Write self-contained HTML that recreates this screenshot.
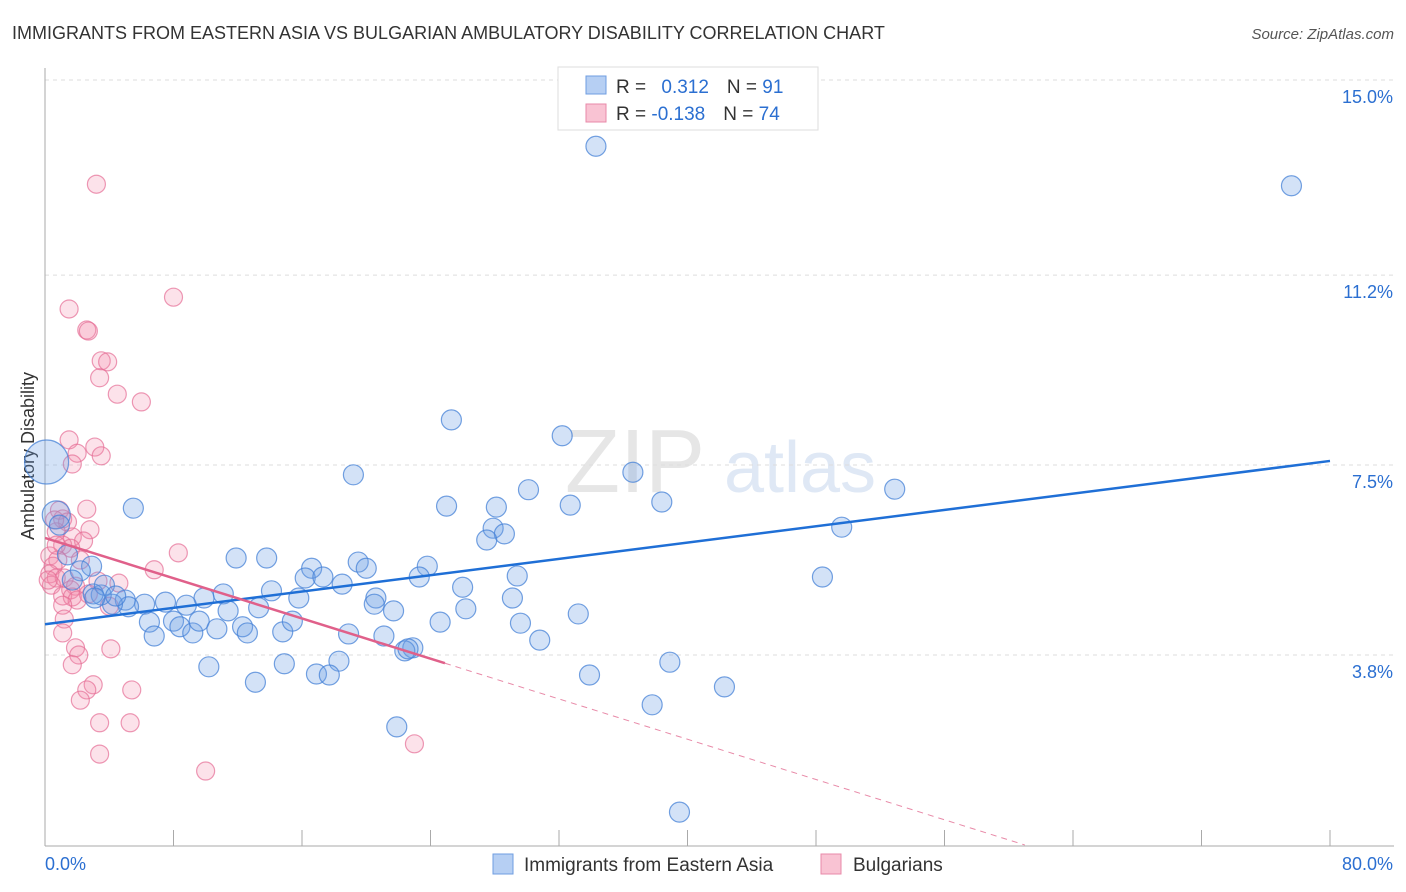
<!DOCTYPE html>
<html><head><meta charset="utf-8">
<style>
body{margin:0;background:#fff;font-family:"Liberation Sans",sans-serif;}
#wrap{position:relative;width:1406px;height:892px;overflow:hidden}
svg text{font-family:"Liberation Sans",sans-serif}
</style></head>
<body>
<div id="wrap">
<svg id="chart" width="1406" height="892" xmlns="http://www.w3.org/2000/svg">
<text x="12" y="39" font-size="18" fill="#333">IMMIGRANTS FROM EASTERN ASIA VS BULGARIAN AMBULATORY DISABILITY CORRELATION CHART</text>
<text x="1394" y="39" font-size="15" fill="#555" font-style="italic" text-anchor="end">Source: ZipAtlas.com</text>
<text x="34" y="456" font-size="18" fill="#333" text-anchor="middle" transform="rotate(-90 34 456)">Ambulatory Disability</text>
<text x="635" y="492" font-size="90" fill="#e6e6e6" font-family="Liberation Serif" text-anchor="middle">ZIP</text>
<text x="800" y="492" font-size="72" fill="#dfe8f5" text-anchor="middle">atlas</text>
<g id="grid"></g>
<g id="pts"></g>
<g id="lines"></g>
<g>
<rect x="558" y="67" width="260" height="63" fill="#fff" stroke="#ddd"/>
<rect x="586" y="76" width="20" height="18" fill="#b6cff3" stroke="#6f9ee0"/>
<rect x="586" y="104" width="20" height="18" fill="#f9c3d3" stroke="#e88aa8"/>
<text x="616" y="93" font-size="19" fill="#333">R = <tspan fill="#2b6fd1" dx="10">0.312</tspan><tspan dx="18" fill="#333">N = </tspan><tspan fill="#2b6fd1">91</tspan></text>
<text x="616" y="120" font-size="19" fill="#333">R = <tspan fill="#2b6fd1">-0.138</tspan><tspan dx="18" fill="#333">N = </tspan><tspan fill="#2b6fd1">74</tspan></text>
</g>
<g>
<rect x="493" y="854" width="20" height="20" fill="#b6cff3" stroke="#6f9ee0"/>
<text x="524" y="871" font-size="19" fill="#333">Immigrants from Eastern Asia</text>
<rect x="821" y="854" width="20" height="20" fill="#f9c3d3" stroke="#e88aa8"/>
<text x="853" y="871" font-size="19" fill="#333">Bulgarians</text>
</g>
</svg>
</div>
<script>
const yTicks=[15.0,11.2,7.5,3.8];
const yTickLabels=["15.0%","11.2%","7.5%","3.8%"];
const xTicks=[0,8,16,24,32,40,48,56,64,72,80];
const xEndLabels=["0.0%","80.0%"];
const blueX=[34.3,77.6,25.3,32.2,36.6,19.2,30.1,52.9,25.0,28.1,32.7,38.4,5.5,27.9,28.6,27.5,49.6,11.9,13.8,19.5,16.6,20.0,23.8,16.2,17.3,23.3,29.4,48.4,18.5,26.0,14.1,15.8,20.6,11.1,29.1,9.9,20.5,21.7,26.2,33.2,13.3,11.4,8.8,7.5,6.2,5.0,5.2,4.2,3.5,3.0,3.7,2.9,2.2,1.4,0.7,0.1,6.5,6.8,8.0,8.4,9.2,9.6,10.7,12.3,12.6,14.8,15.4,18.9,21.1,24.6,29.6,30.8,22.9,22.4,22.6,18.3,10.2,14.9,16.9,17.7,38.9,33.9,13.1,42.3,37.8,21.9,39.5,0.9,1.7,4.4,3.1];
const blueY=[13.71,12.94,8.38,8.07,7.36,7.31,7.02,7.03,6.70,6.68,6.72,6.78,6.66,6.27,6.16,6.04,6.29,5.69,5.69,5.61,5.49,5.49,5.53,5.30,5.32,5.32,5.34,5.32,5.18,5.12,5.05,4.91,4.91,4.99,4.91,4.91,4.79,4.66,4.70,4.60,4.72,4.66,4.77,4.83,4.79,4.87,4.74,4.79,4.97,4.99,5.16,5.53,5.44,5.75,6.53,7.56,4.44,4.17,4.46,4.35,4.23,4.46,4.31,4.35,4.23,4.25,4.46,4.21,4.17,4.44,4.42,4.09,3.94,3.88,3.92,3.68,3.57,3.63,3.43,3.41,3.66,3.41,3.27,3.18,2.83,2.40,0.74,6.33,5.26,4.95,4.91];
const blueSize=blueX.map((v,i)=>i===55?22:(i===54?14:10));
const pinkX=[3.2,8.0,1.5,2.6,2.7,3.5,3.9,3.4,4.5,6.0,1.5,3.1,2.0,3.5,1.7,0.9,2.6,1.1,1.4,2.8,0.7,1.7,2.4,1.1,1.6,8.3,0.3,0.8,0.5,6.8,0.3,0.7,1.2,0.4,1.9,3.3,4.6,1.6,1.1,1.7,2.7,2.0,1.1,4.0,1.2,1.1,4.1,1.9,2.1,1.7,3.0,5.4,2.6,2.2,3.4,5.3,23.0,3.4,10.0,0.6,0.7,0.2,2.2];
const pinkY=[12.97,10.77,10.54,10.13,10.11,9.53,9.51,9.20,8.88,8.73,7.99,7.85,7.73,7.68,7.52,6.62,6.64,6.45,6.39,6.24,6.20,6.10,6.02,5.94,5.88,5.79,5.73,5.65,5.53,5.46,5.38,5.30,5.30,5.16,5.14,5.24,5.20,5.07,4.95,4.93,4.99,4.87,4.77,4.75,4.50,4.23,3.92,3.94,3.80,3.61,3.22,3.12,3.12,2.92,2.48,2.48,2.07,1.87,1.54,6.43,5.94,5.26,5.65];
const blueTrend=[[0,4.40],[80,7.58]];
const pinkTrendSolid=[[0,6.08],[24.9,3.64]];
const pinkTrendDashed=[[24.9,3.64],[61.0,0.10]];

const X=v=>45+v/80*1285;
const Y=v=>80+(15-v)*51.34;
const NS="http://www.w3.org/2000/svg";
function mk(tag,attrs,parent){const e=document.createElementNS(NS,tag);for(const k in attrs)e.setAttribute(k,attrs[k]);parent.appendChild(e);return e;}
const grid=document.getElementById('grid');
yTicks.forEach((t,i)=>{
  const l=mk('line',{x1:45,x2:1394,y1:Y(t),y2:Y(t),stroke:'#ddd','stroke-dasharray':'4,4'},grid);
  
  
  const tx=mk('text',{x:1393,y:Y(t)+23,'font-size':18,fill:'#2b6fd1','text-anchor':'end'},grid);
  tx.textContent=yTickLabels[i];
  
  
});
const ax=mk('line',{x1:45,x2:45,y1:68,y2:846,stroke:'#aaa'},grid);


const bx=mk('line',{x1:45,x2:1394,y1:846,y2:846,stroke:'#aaa'},grid);


xTicks.forEach(t=>{
  const l=mk('line',{x1:X(t),x2:X(t),y1:830,y2:846,stroke:'#aaa'},grid);
  
  
});
const xl0=mk('text',{x:45,y:870,'font-size':18,fill:'#2b6fd1'},grid);xl0.textContent=xEndLabels[0];


const xl1=mk('text',{x:1393,y:870,'font-size':18,fill:'#2b6fd1','text-anchor':'end'},grid);xl1.textContent=xEndLabels[1];


const pts=document.getElementById('pts');
pinkX.forEach((v,i)=>{
  const c=mk('circle',{cx:X(v),cy:Y(pinkY[i]),r:9,fill:'rgba(242,140,170,0.25)',stroke:'rgba(230,110,150,0.7)','stroke-width':1.2},pts);
  
  
});
blueX.forEach((v,i)=>{
  const c=mk('circle',{cx:X(v),cy:Y(blueY[i]),r:blueSize[i],fill:'rgba(110,160,230,0.3)',stroke:'rgba(70,130,215,0.75)','stroke-width':1.2},pts);
  
  
});
const lines=document.getElementById('lines');
const bl=mk('line',{x1:X(blueTrend[0][0]),y1:Y(blueTrend[0][1]),x2:X(blueTrend[1][0]),y2:Y(blueTrend[1][1]),stroke:'#1f6fd6','stroke-width':2.5},lines);


const pl=mk('line',{x1:X(pinkTrendSolid[0][0]),y1:Y(pinkTrendSolid[0][1]),x2:X(pinkTrendSolid[1][0]),y2:Y(pinkTrendSolid[1][1]),stroke:'#e0608a','stroke-width':2.5},lines);


const pd=mk('line',{x1:X(pinkTrendDashed[0][0]),y1:Y(pinkTrendDashed[0][1]),x2:X(pinkTrendDashed[1][0]),y2:Y(pinkTrendDashed[1][1]),stroke:'#e88aa8','stroke-width':1,'stroke-dasharray':'6,5'},lines);


</script>
</body></html>
